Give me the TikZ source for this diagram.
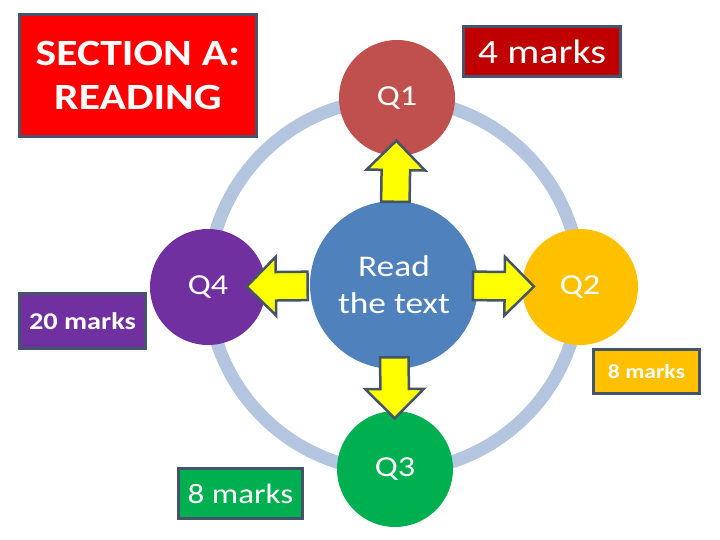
\documentclass[tikz,border=0pt]{standalone}
\usepackage{fontspec}
\setmainfont[FakeStretch=1.18]{Carlito}
\usetikzlibrary{shapes.arrows}
\definecolor{ringblue}{HTML}{B4C5E0}
\definecolor{readblue}{HTML}{4F81BD}
\definecolor{qred}{HTML}{C0504D}
\definecolor{qgold}{HTML}{FFC000}
\definecolor{qgreen}{HTML}{00B050}
\definecolor{qpurple}{HTML}{7030A0}
\definecolor{boxred}{HTML}{FF0000}
\definecolor{darkred}{HTML}{C00000}
\definecolor{slate}{HTML}{44546A}
\definecolor{arrowyellow}{HTML}{FFFF00}

\begin{document}
\begin{tikzpicture}[x=1pt, y=-1pt,
  qdisc/.style={circle, minimum size=116pt, inner sep=0pt, text=white, font=\fontsize{29}{34}\selectfont},
  markbox/.style={draw=slate, line width=3pt, text=white, inner sep=0pt, align=center},
  yarrow/.style={single arrow, draw=slate, line width=2.5pt, fill=arrowyellow, minimum height=61pt,
    single arrow head extend=15pt, inner xsep=0pt, inner ysep=13pt, sloped, allow upside down}]
  \fill[white] (0,0) rectangle (720,540);
  \useasboundingbox (0,0) rectangle (720,540);

  % ring and discs
  \coordinate (hub) at (394,285);
  \draw[ringblue, line width=13pt] (hub) circle (186);
  \node[circle, fill=readblue, minimum size=168pt, inner sep=0pt, text=white, align=center,
    font=\fontsize{30}{37}\selectfont] (read) at (hub) {Read\\the text};
  \node[qdisc, fill=qred] (q1) at (397,98) {Q1};
  \node[qdisc, fill=qgold] (q2) at (580,287) {Q2};
  \node[qdisc, fill=qgreen] (q3) at (395,469) {Q3};
  \node[qdisc, fill=qpurple] (q4) at (208,287) {Q4};

  % arrows
  \path (read.center) -- (q1.center) node[yarrow, pos=0.57] (a1) {};
  \path (read.center) -- (q2.center) node[yarrow, pos=0.55] (a2) {};
  \path (read.center) -- (q3.center) node[yarrow, pos=0.52] (a3) {};
  \path (read.center) -- (q4.center) node[yarrow, pos=0.59] (a4) {};

  % mark boxes
  \node[markbox, fill=boxred, minimum width=237pt, minimum height=122pt,
    font=\fontsize{37}{44}\selectfont\bfseries] (title) at (138,75.5) {SECTION A:\\READING};
  \node[markbox, fill=darkred, minimum width=157pt, minimum height=50pt,
    font=\fontsize{34}{40}\selectfont] (m1) at (542,51.5) {4 marks};
  \node[markbox, fill=qpurple, minimum width=126pt, minimum height=55pt,
    font=\fontsize{24}{28}\selectfont\bfseries] (m4) at (82.5,321) {20 marks};
  \node[markbox, fill=qgold, minimum width=106pt, minimum height=44pt,
    font=\fontsize{20}{24}\selectfont\bfseries] (m2) at (646.5,371.5) {8 marks};
  \node[markbox, fill=qgreen, minimum width=124pt, minimum height=50pt,
    font=\fontsize{28}{32}\selectfont] (m3) at (240.5,493.5) {8 marks};
\end{tikzpicture}
\end{document}
